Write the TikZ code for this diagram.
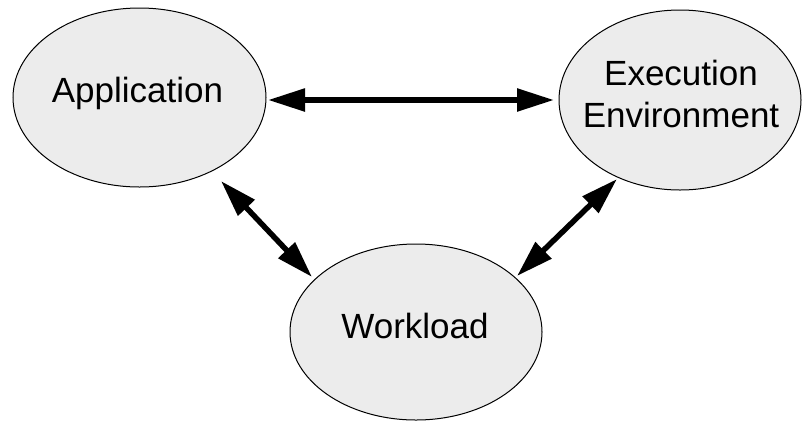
\documentclass[tikz,border=0pt]{standalone}
\usepackage{fontspec}
\setmainfont{Liberation Sans}
\usetikzlibrary{arrows.meta,shapes.geometric}
\definecolor{ellfill}{HTML}{ECECEC}
\tikzset{
  ell/.style={ellipse, draw=black, line width=1pt, fill=ellfill, inner sep=0pt},
  lbl/.style={font=\fontsize{35}{42}\selectfont, inner sep=0pt, align=center},
  arr/.style={line width=5.5pt, {Triangle[length=37pt,width=22pt]}-{Triangle[length=37pt,width=22pt]}}
}
\begin{document}
\begin{tikzpicture}[x=1pt,y=-1pt]
\useasboundingbox (0,0) rectangle (802,421);
\node[ell, minimum width=253pt, minimum height=179pt] (app) at (139.5,97.5) {};
\node[ell, minimum width=242pt, minimum height=180pt] (exe) at (680,100) {};
\node[ell, minimum width=252pt, minimum height=176pt] (wl) at (416,332) {};
\node[lbl, anchor=base] (appt) at ([shift={(-2,4.5)}]app.center) {Application};
\node[lbl, anchor=base] (exet) at ([shift={(1,27)}]exe.center) {Execution\\Environment};
\node[lbl, anchor=base] (wlt) at ([shift={(-1,6)}]wl.center) {Workload};
\draw[arr] ([shift={(128.5,2.5)}]app.center) -- ([shift={(-126,0)}]exe.center);
\draw[arr] ([shift={(81.5,83.5)}]app.center) -- ([shift={(-104,-55)}]wl.center);
\draw[arr] ([shift={(-63,79)}]exe.center) -- ([shift={(101,-56)}]wl.center);
\end{tikzpicture}
\end{document}
